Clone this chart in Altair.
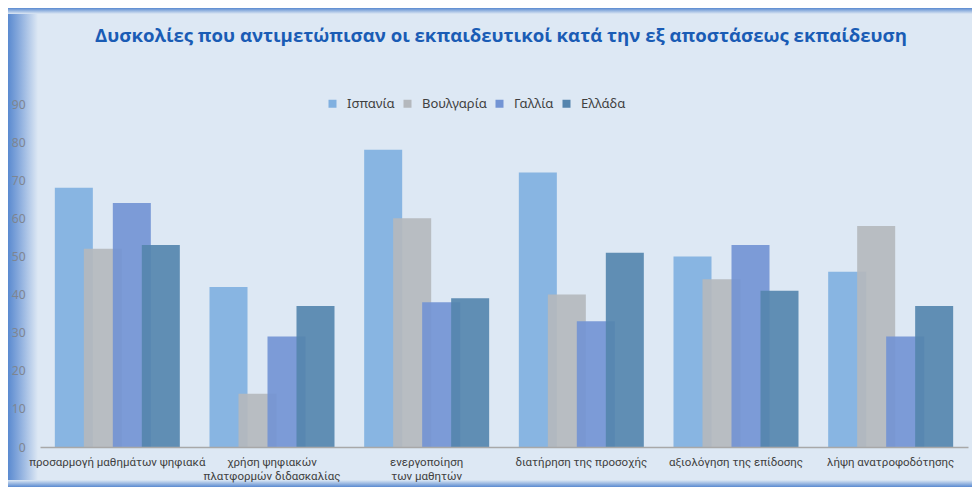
import altair as alt
import pandas as pd

categories = [
    "προσαρμογή μαθημάτων ψηφιακά",
    "χρήση ψηφιακών\nπλατφορμών διδασκαλίας",
    "ενεργοποίηση\nτων μαθητών",
    "διατήρηση της προσοχής",
    "αξιολόγηση της επίδοσης",
    "λήψη ανατροφοδότησης",
]
countries = ["Ισπανία", "Βουλγαρία", "Γαλλία", "Ελλάδα"]
colors = ["#80b0e0", "#b4b8bd", "#7394d4", "#5585ae"]

spain = [68, 42, 78, 72, 50, 46]
bulgaria = [52, 14, 60, 40, 44, 58]
france = [64, 29, 38, 33, 53, 29]
greece = [53, 37, 39, 51, 41, 37]

y_ticks = [0, 10, 20, 30, 40, 50, 60, 70, 80, 90]
title_text = "Δυσκολίες που αντιμετώπισαν οι εκπαιδευτικοί κατά την εξ αποστάσεως εκπαίδευση"

series = [spain, bulgaria, france, greece]
rows = []
for c, vals in zip(countries, series):
    for cat, v in zip(categories, vals):
        rows.append({"category": cat, "country": c, "value": v})
df = pd.DataFrame(rows)

W, H = 928, 343
BG = "#dde8f4"
BLUE = "#5a8ad0"
FONT = "Noto Sans"

bars = alt.Chart(df).mark_bar(width=38, opacity=0.92).encode(
    x=alt.X(
        "category:N",
        sort=categories,
        scale=alt.Scale(paddingInner=0, paddingOuter=0),
        axis=alt.Axis(
            title=None,
            labelAngle=0,
            labelExpr="split(datum.label, '\\n')",
            labelFontSize=11.5,
            labelColor="#404040",
            labelFont="Roboto",
            labelPadding=9,
            labelLimit=400,
            ticks=False,
            domainColor="#a8a8a8",
            domainWidth=1.5,
            labelLineHeight=14,
            zindex=1,
        ),
    ),
    xOffset=alt.XOffset(
        "country:N", sort=countries, scale=alt.Scale(paddingInner=0, paddingOuter=0.667)
    ),
    y=alt.Y(
        "value:Q",
        scale=alt.Scale(domain=[0, 90], nice=False),
        axis=alt.Axis(
            title=None,
            values=y_ticks,
            grid=False,
            domain=False,
            ticks=False,
            labelFontSize=12,
            labelColor="#7f8590",
            labelFont=FONT,
            labelPadding=15,
            zindex=1,
        ),
    ),
    color=alt.Color(
        "country:N",
        sort=countries,
        scale=alt.Scale(domain=countries, range=colors),
        legend=alt.Legend(
            title=None,
            orient="none",
            direction="horizontal",
            legendX=286,
            legendY=-7,
            symbolType="square",
            symbolSize=64,
            symbolStrokeWidth=0,
            symbolOpacity=1,
            labelFontSize=13,
            labelColor="#404040",
            labelFont=FONT,
            labelOffset=8,
            columnPadding=6,
        ),
    ),
    order=alt.Order("ord:Q"),
).transform_calculate(
    ord="indexof(" + str(countries).replace("'", '"') + ", datum.country)"
)

one = alt.Data(values=[{"a": 1}])

title = alt.Chart(one).mark_text(
    text=title_text,
    font="Open Sans",
    fontSize=18.6,
    fontWeight="bold",
    color="#1a5cb5",
    align="center",
    baseline="middle",
).encode(x=alt.value(461), y=alt.value(-68))

left_grad = alt.LinearGradient(
    gradient="linear",
    stops=[
        alt.GradientStop(color=BLUE, offset=0),
        alt.GradientStop(color="#86a9dc", offset=0.35),
        alt.GradientStop(color=BG, offset=1),
    ],
    x1=0, x2=1, y1=0, y2=0,
)
top_grad = alt.LinearGradient(
    gradient="linear",
    stops=[
        alt.GradientStop(color=BLUE, offset=0),
        alt.GradientStop(color=BG, offset=1),
    ],
    x1=0, x2=0, y1=0, y2=1,
)
bottom_grad = alt.LinearGradient(
    gradient="linear",
    stops=[
        alt.GradientStop(color=BG, offset=0),
        alt.GradientStop(color=BLUE, offset=1),
    ],
    x1=0, x2=0, y1=0, y2=1,
)

left_band = alt.Chart(one).mark_rect(color=left_grad).encode(
    x=alt.value(-32), x2=alt.value(-2), y=alt.value(-96), y2=alt.value(H + 40)
)
top_band = alt.Chart(one).mark_rect(color=top_grad).encode(
    x=alt.value(-32), x2=alt.value(W + 4), y=alt.value(-96), y2=alt.value(-90)
)
bottom_band = alt.Chart(one).mark_rect(color=bottom_grad).encode(
    x=alt.value(-32), x2=alt.value(W + 4), y=alt.value(H + 33), y2=alt.value(H + 40)
)

chart = alt.layer(left_band, top_band, bottom_band, bars, title).properties(
    width=W,
    height=H,
    background=BG,
    padding={"left": 32, "top": 96, "right": 4, "bottom": 40},
    autosize=alt.AutoSizeParams(type="none"),
).configure_view(stroke=None)

chart.save("out.html", embed_options={"renderer": "svg", "actions": False})
